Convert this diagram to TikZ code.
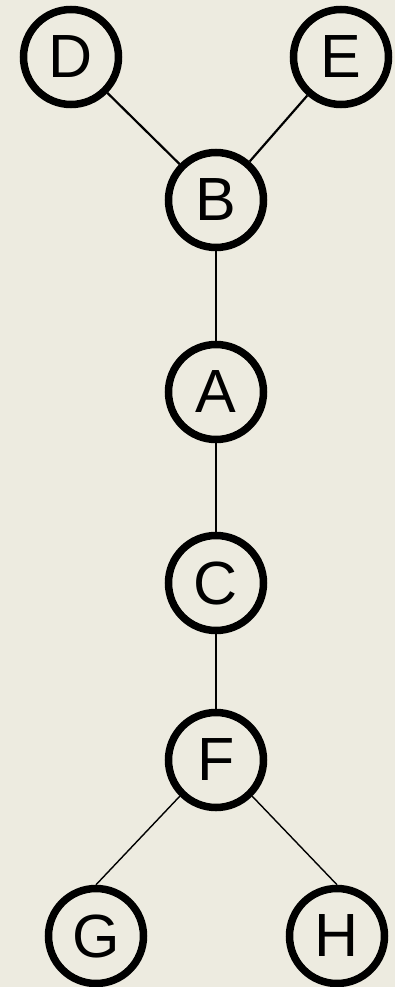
\documentclass[tikz,border=0pt]{standalone}
\usepackage{fontspec}
\setmainfont{Liberation Sans}
\definecolor{paper}{RGB}{237,235,224}
\begin{document}
\begin{tikzpicture}[x=1pt, y=-1pt,
  vertex/.style={circle, draw=black, fill=paper, line width=7.5pt,
    minimum size=95pt, inner sep=0pt, font=\fontsize{61}{61}\selectfont},
  link/.style={draw=black, line width=1.4pt}]
% Background
\fill[paper] (0,0) rectangle (395,987);
\useasboundingbox (0,0) rectangle (395,987);

% Vertices (name/position)
\foreach \x/\y/\n in {
  71/57/D,
  341/57/E,
  216/200/B,
  216/392/A,
  216/583/C,
  216/760/F,
  96/936/G,
  337/936/H} {
  \node[vertex] (\n) at (\x,\y) {\n};
}

% Edges
\draw[link, line width=2.2pt] (D) -- (B);
\draw[link, line width=2.2pt] (E) -- (B);
\draw[link] (B) -- (A);
\draw[link] (A) -- (C);
\draw[link] (C) -- (F);
\draw[link] (F.south west) -- (G.north);
\draw[link] (F.south east) -- (H.north);
\end{tikzpicture}
\end{document}
